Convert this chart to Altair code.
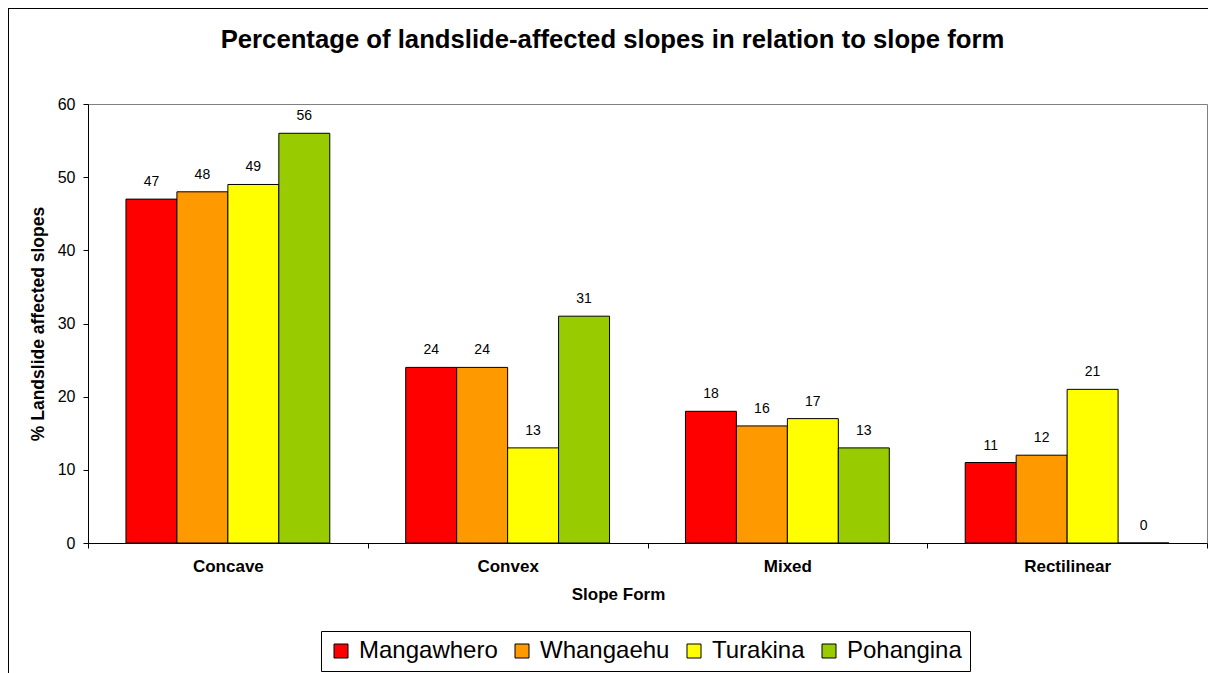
import altair as alt
import pandas as pd

categories = ["Concave", "Convex", "Mixed", "Rectilinear"]
series = ["Mangawhero", "Whangaehu", "Turakina", "Pohangina"]
mangawhero = [47, 24, 18, 11]
whangaehu = [48, 24, 16, 12]
turakina = [49, 13, 17, 21]
pohangina = [56, 31, 13, 0]
colors = ["#FF0000", "#FF9900", "#FFFF00", "#99CC00"]
y_ticks = [0, 10, 20, 30, 40, 50, 60]

rows = []
for s, vals in zip(series, [mangawhero, whangaehu, turakina, pohangina]):
    for c, v in zip(categories, vals):
        rows.append({"Slope Form": c, "River": s, "Value": v})
df = pd.DataFrame(rows)

FONT = "Liberation Sans"

x_enc = alt.X(
    "Slope Form:N",
    sort=categories,
    scale=alt.Scale(paddingInner=0, paddingOuter=0),
    axis=alt.Axis(
        title="Slope Form",
        labelAngle=0,
        labelFontSize=17,
        labelFontWeight="bold",
        labelPadding=10,
        titleFontSize=17,
        titleFontWeight="bold",
        titlePadding=12,
        titleX=530,
        tickBand="extent",
        tickSize=5,
        domainColor="black",
        tickColor="black",
    ),
)
xoff = alt.XOffset("River:N", sort=series, scale=alt.Scale(paddingInner=0, paddingOuter=0.745))
y_enc = alt.Y(
    "Value:Q",
    scale=alt.Scale(domain=[0, 60], nice=False),
    axis=alt.Axis(
        title="% Landslide affected slopes",
        values=y_ticks,
        labelFontSize=16,
        labelPadding=8,
        tickSize=5,
        titleFontSize=17.5,
        titleFontWeight="bold",
        titlePadding=10,
        domainColor="black",
        tickColor="black",
    ),
)
color_enc = alt.Color(
    "River:N",
    sort=series,
    scale=alt.Scale(domain=series, range=colors),
    legend=alt.Legend(
        title=None,
        orient="none",
        legendX=233,
        legendY=527,
        direction="horizontal",
        columns=4,
        gridAlign="none",
        padding=8,
        strokeColor="black",
        fillColor="white",
        labelFontSize=24,
        labelFont=FONT,
        labelOffset=6,
        columnPadding=12,
        symbolType="square",
        symbolSize=196,
        symbolStrokeColor="black",
        symbolStrokeWidth=1,
        symbolOpacity=1,
    ),
)

base = alt.Chart(df)
bars = base.mark_bar(stroke="black", strokeWidth=1, opacity=1).encode(
    x=x_enc, xOffset=xoff, y=y_enc, color=color_enc
)
labels = base.mark_text(fontSize=14, dy=-13, baseline="alphabetic", color="black", font=FONT).encode(
    x=alt.X("Slope Form:N", sort=categories),
    xOffset=alt.XOffset("River:N", sort=series),
    y=alt.Y("Value:Q"),
    text=alt.Text("Value:Q"),
)
border = alt.Chart(pd.DataFrame({"a": [0]})).mark_rect(
    fillOpacity=0, stroke="black", strokeWidth=2
).encode(
    x=alt.value(-80), x2=alt.value(1160), y=alt.value(-96), y2=alt.value(700)
)

chart = (
    alt.layer(border, bars, labels)
    .properties(
        width=1119,
        height=439,
        autosize=alt.AutoSizeParams(type="none"),
        padding={"left": 80, "top": 96, "right": 1, "bottom": 150},
        title=alt.Title(
            "Percentage of landslide-affected slopes in relation to slope form",
            fontSize=25.7,
            fontWeight="bold",
            font=FONT,
            anchor="middle",
            frame="group",
            dx=-35,
            offset=-47,
            color="black",
        ),
        background="white",
    )
    .configure_view(stroke="#808080", strokeWidth=1)
    .configure_axis(grid=False, labelFont=FONT, titleFont=FONT, labelColor="black", titleColor="black")
)

chart.save("out.html", embed_options={"renderer": "svg", "actions": False})
